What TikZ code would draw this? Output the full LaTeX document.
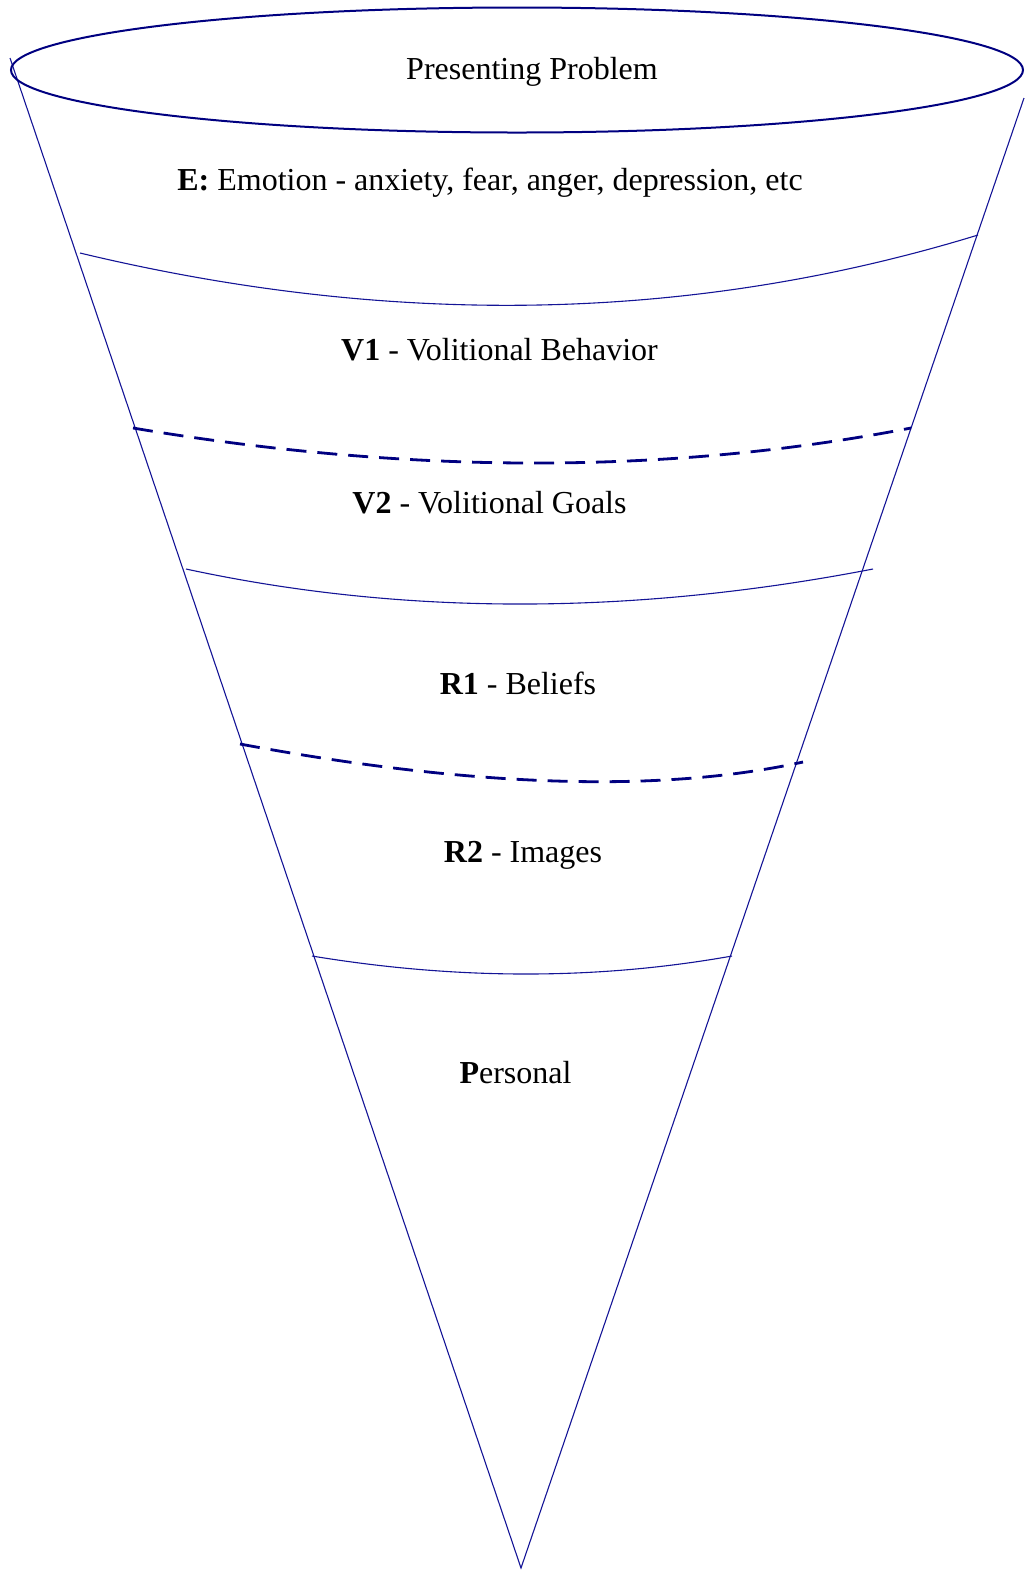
\documentclass[tikz,border=0pt]{standalone}
\usepackage{fontspec}
\setmainfont{Liberation Serif}
\definecolor{navyline}{RGB}{0,0,128}
\definecolor{thinline}{RGB}{20,20,150}
\begin{document}
\begin{tikzpicture}[x=0.5pt,y=-0.5pt,
  rim/.style={draw=navyline,line width=1pt},
  side/.style={draw=thinline,line width=0.55pt},
  band/.style={draw=thinline,line width=0.55pt},
  dashband/.style={draw=navyline,line width=1.4pt,dash pattern=on 10pt off 5.5pt},
  lbl/.style={anchor=base,inner sep=0pt,font=\fontsize{16}{19}\selectfont}]
\useasboundingbox (0,0) rectangle (1025,1571);
% cone sides
\coordinate (lt) at (10,58);
\coordinate (rt) at (1024,98);
\coordinate (tip) at (521,1568);
\draw[side] (lt) -- (tip) -- (rt);
% rim ellipse
\draw[rim] (517,70) ellipse [x radius=506, y radius=62.5];
% band boundaries
\draw[band] (80,253) .. controls (394,328.3) and (693.3,322.3) .. (978,235);
\draw[dashband] (133,428) .. controls (409.7,474.7) and (669,474.7) .. (911,428);
\draw[band] (186,569) .. controls (402.3,615.7) and (631.3,615.7) .. (873,569);
\draw[dashband] (240,744) .. controls (472.3,787.3) and (660,793.3) .. (803,762);
\draw[band] (312,956) .. controls (457.3,980) and (597.3,980) .. (732,956);
% labels
\node[lbl] (pp) at (532,79) {Presenting Problem};
\node[lbl] (e) at (490,190.5) {\textbf{E:} Emotion - anxiety, fear, anger, depression, etc};
\node[lbl] (v1) at (499.5,360.5) {\textbf{V1} - Volitional Behavior};
\node[lbl] (v2) at (489.5,513) {\textbf{V2} - Volitional Goals};
\node[lbl] (r1) at (518,694) {\textbf{R1} - Beliefs};
\node[lbl] (r2) at (523,862.5) {\textbf{R2} - Images};
\node[lbl] (p) at (515.5,1083.5) {\textbf{P}ersonal};
\end{tikzpicture}
\end{document}
